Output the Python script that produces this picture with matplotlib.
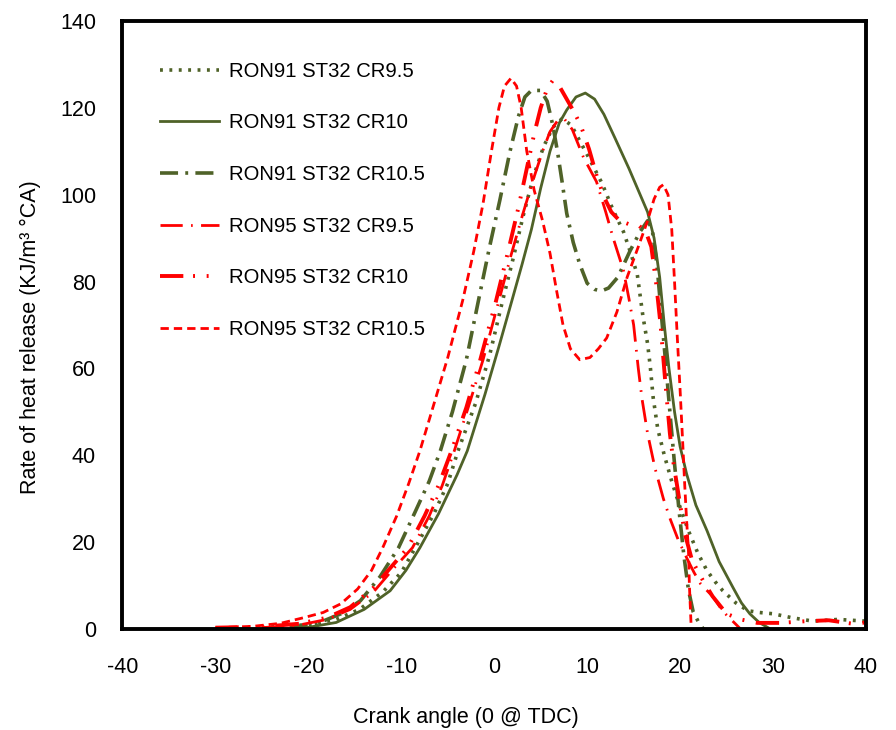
import matplotlib
matplotlib.use("Agg")
import matplotlib.pyplot as plt

plt.rcParams['font.family'] = ['Liberation Sans', 'DejaVu Sans']
plt.rcParams['axes.unicode_minus'] = False

# RON91 ST32 CR9.5 (dotted)
x91_95 = [-25, -20, -17, -14.5, -12, -10, -8.5, -6.5, -5, -3.9, -2, -0.5, 0.9, 2, 3.1, 4.2, 5.3,
          6.3, 7.3, 8.3, 9.3, 10.3, 11.6, 12.8, 13.9, 14.7, 15.4, 16, 16.5, 16.8, 17.1, 17.6, 18.3,
          19.1, 20, 20.9, 21.9, 22.9, 23.8, 24.6, 26, 27.3, 28.5, 30, 32, 34.3, 37, 40]
y91_95 = [0.3, 1, 2.2, 4.5, 8.5, 13, 18.7, 26.5, 33.5, 41, 52, 63, 75.6, 85, 95, 104, 111,
          115.5, 117.5, 116, 112, 108, 102.6, 96.4, 91.5, 86.5, 81.5, 72, 65.7, 60.2, 53.3, 46, 40,
          34, 28, 22.6, 17.5, 13.4, 10.8, 8.8, 6, 4.2, 3.8, 3.5, 2.6, 1.8, 2.2, 1.8]

# RON91 ST32 CR10 (solid)
x91_10 = [-21, -17, -14, -11.2, -9.5, -8, -6, -4, -2.9, -1, 0.5, 1.9, 3, 4, 5, 6, 7, 7.8, 8.8,
          9.8, 10.8, 11.8, 13, 14.5, 15.7, 16.5, 17.2, 17.8, 18.3, 18.8, 19.4, 20, 20.7, 21.7,
          22.9, 24.2, 25.7, 26.6, 27.5, 28.5, 29.7]
y91_10 = [0, 1.5, 4.5, 8.8, 13.5, 18.7, 26.5, 35.5, 41, 54, 65, 75.6, 84, 92, 101.5, 110, 116.5,
          119.5, 122.5, 123.4, 122, 118.5, 113, 106, 100, 96, 90, 81, 70, 60, 50, 42, 35.7, 28.5,
          22.6, 15.5, 9.5, 6, 3.5, 1.5, 0]

# RON91 ST32 CR10.5 (dash-dot)
x91_105 = [-22, -19, -16.5, -14.4, -12.3, -10.3, -8.5, -7, -5.8, -4.5, -3, -1.7, -0.5, 0.6, 1.7,
           2.6, 3.3, 4, 5, 5.7, 6.3, 6.8, 7.3, 7.8, 8.5, 9.2, 10, 10.8, 11.5, 12.3, 13.3, 14.6,
           15.7, 16.5, 17, 17.5, 18, 18.5, 18.9, 19.4, 19.9, 20.4, 20.9, 21.4, 22, 22.5]
y91_105 = [0.3, 1.3, 3.5, 6.5, 12, 18.7, 27, 34, 41, 50, 62, 75.6, 88, 98.7, 110,
           118, 122.5, 124, 124, 121.5, 116, 110, 103, 95.7, 89, 84, 79.6, 78.2, 77.8, 78.5, 81, 87,
           91.5, 94, 92, 84, 72, 60, 50, 38, 27, 17, 9, 4, 1.5, 0]

# RON95 ST32 CR9.5 (long dash, dot)
x95_95 = [-25, -21, -18, -15.5, -13, -10.8, -8.8, -7, -5.6, -4.3, -2.8, -1.2, 0.5, 1.8, 3, 4.2,
          5.2, 6, 6.8, 7.6, 8.4, 9.6, 11, 12, 12.8, 13.9, 14.5, 15, 15.5, 15.9, 16.5, 17.3, 18.2,
          18.9, 19.8, 20.7, 21.5, 22.2, 23.5, 24.3, 25, 25.8, 26.5]
y95_95 = [0.3, 0.9, 2.2, 4.5, 8.5, 14, 18.7, 26, 33, 41, 51, 62, 75.6, 86, 95, 103.5,
          110, 114.5, 117, 117.3, 115, 108.6, 103, 96, 90, 82.6, 76, 70, 60, 53, 45, 37, 30,
          25.5, 20.5, 16.4, 13, 10.4, 7.5, 5, 3.2, 1.5, 0]

# RON95 ST32 CR10 (long dash, dot, dot)
x95_10 = [-30, -25, -21, -18, -15.5, -13, -11, -9.3, -7.5, -6, -4.6, -3, -1.5, 0.2, 1.5, 2.6,
          3.5, 4.3, 5, 5.7, 6.3, 7, 7.8, 8.6, 9.3, 10.2, 11, 11.8, 12.6, 13.5, 14.5, 15.5, 16.3,
          16.9, 17.4, 17.9, 18.4, 18.9, 19.3, 19.9, 20.5, 21.3, 22.5, 23.5, 25, 26.5, 28.3, 30.8,
          33.6, 36, 38.6, 40]
y95_10 = [0.3, 0.5, 1.2, 2.6, 5, 9.5, 14.5, 18.7, 26, 33, 41, 51, 62, 75.6, 87, 97,
          106, 114, 120, 124.5, 126.3, 125, 122, 119, 116, 110.5, 104.5, 99.5, 96, 94, 93.2, 93, 91.5,
          88, 80, 70, 57, 45, 38, 30, 22, 15.7, 11, 7.5, 3.5, 2.2, 1.4, 1.4,
          1.8, 2, 1.2, 1.5]

# RON95 ST32 CR10.5 (dashed)
x95_105 = [-30, -26, -23, -20.5, -18.4, -16.5, -14.7, -13.2, -12, -10.5, -9.2, -8, -6.6, -5, -3.4,
           -2.2, -1.2, -0.3, 0.5, 1.1, 1.8, 2.4, 2.9, 3.5, 4.3, 5.2, 6, 6.7, 7.4, 8.2, 9.2, 10.3,
           11.2, 12.1, 13.2, 14.3, 15.5, 16.5, 17.2, 17.8, 18.2, 18.7, 19.1, 19.4, 19.7, 20, 20.3,
           20.5, 20.7, 20.9, 21, 21.2]
y95_105 = [0.3, 0.6, 1.3, 2.6, 3.8, 5.8, 9.2, 13.5, 18.7, 26, 33.5, 41, 51, 62.5, 75.6,
           87, 98, 110, 120, 125, 126.8, 125, 120, 110, 101, 94, 86.5, 78, 70, 64.5, 62, 62.5,
           64.5, 67, 73, 81, 88, 94, 99, 101.7, 102.3, 100, 92, 80, 67, 55, 42,
           33, 25, 18, 10, 0]

green = '#4F6228'
red = '#FF0000'

fig = plt.figure(figsize=(8.96, 7.30), dpi=100)
ax = fig.add_axes([0.1367, 0.1384, 0.8298, 0.8329])

ax.plot(x91_95, y91_95, color=green, lw=2.6, linestyle=(0, (0.8, 1.8)), label='RON91 ST32 CR9.5')
ax.plot(x91_10, y91_10, color=green, lw=2.0, linestyle='-', label='RON91 ST32 CR10')
ax.plot(x91_105, y91_105, color=green, lw=2.6, linestyle=(0, (5, 2, 0.8, 2)), label='RON91 ST32 CR10.5')
ax.plot(x95_95, y95_95, color=red, lw=2.0, linestyle=(0, (8, 3, 0.6, 3)), label='RON95 ST32 CR9.5')
ax.plot(x95_10, y95_10, color=red, lw=2.8, linestyle=(0, (6, 2.5, 0.5, 3, 0.5, 3)), label='RON95 ST32 CR10')
ax.plot(x95_105, y95_105, color=red, lw=2.0, linestyle=(0, (3, 1.8)), label='RON95 ST32 CR10.5')

ax.set_xlim(-40, 40)
ax.set_ylim(0, 140)
ax.set_xticks(range(-40, 41, 10))
ax.set_yticks(range(0, 141, 20))
ax.tick_params(axis='x', length=0, pad=20, labelsize=15.5)
ax.tick_params(axis='y', length=0, pad=19, labelsize=15.5)
for s in ax.spines.values():
    s.set_linewidth(2.8)
    s.set_color('black')

ax.set_xlabel('Crank angle (0 @ TDC)', fontsize=15.5)
ax.set_ylabel('Rate of heat release (KJ/m³ °CA)', fontsize=15.5)
ax.xaxis.set_label_coords((466 - 122) / 744, -0.128)
ax.yaxis.set_label_coords(-0.109, 0.48)

ax.legend(loc='upper left', bbox_to_anchor=(0.051, 0.933), frameon=False, fontsize=14.6,
          handlelength=2.9, handletextpad=0.5, labelspacing=1.61, borderpad=0, borderaxespad=0)

fig.savefig('out.png', dpi=100)
